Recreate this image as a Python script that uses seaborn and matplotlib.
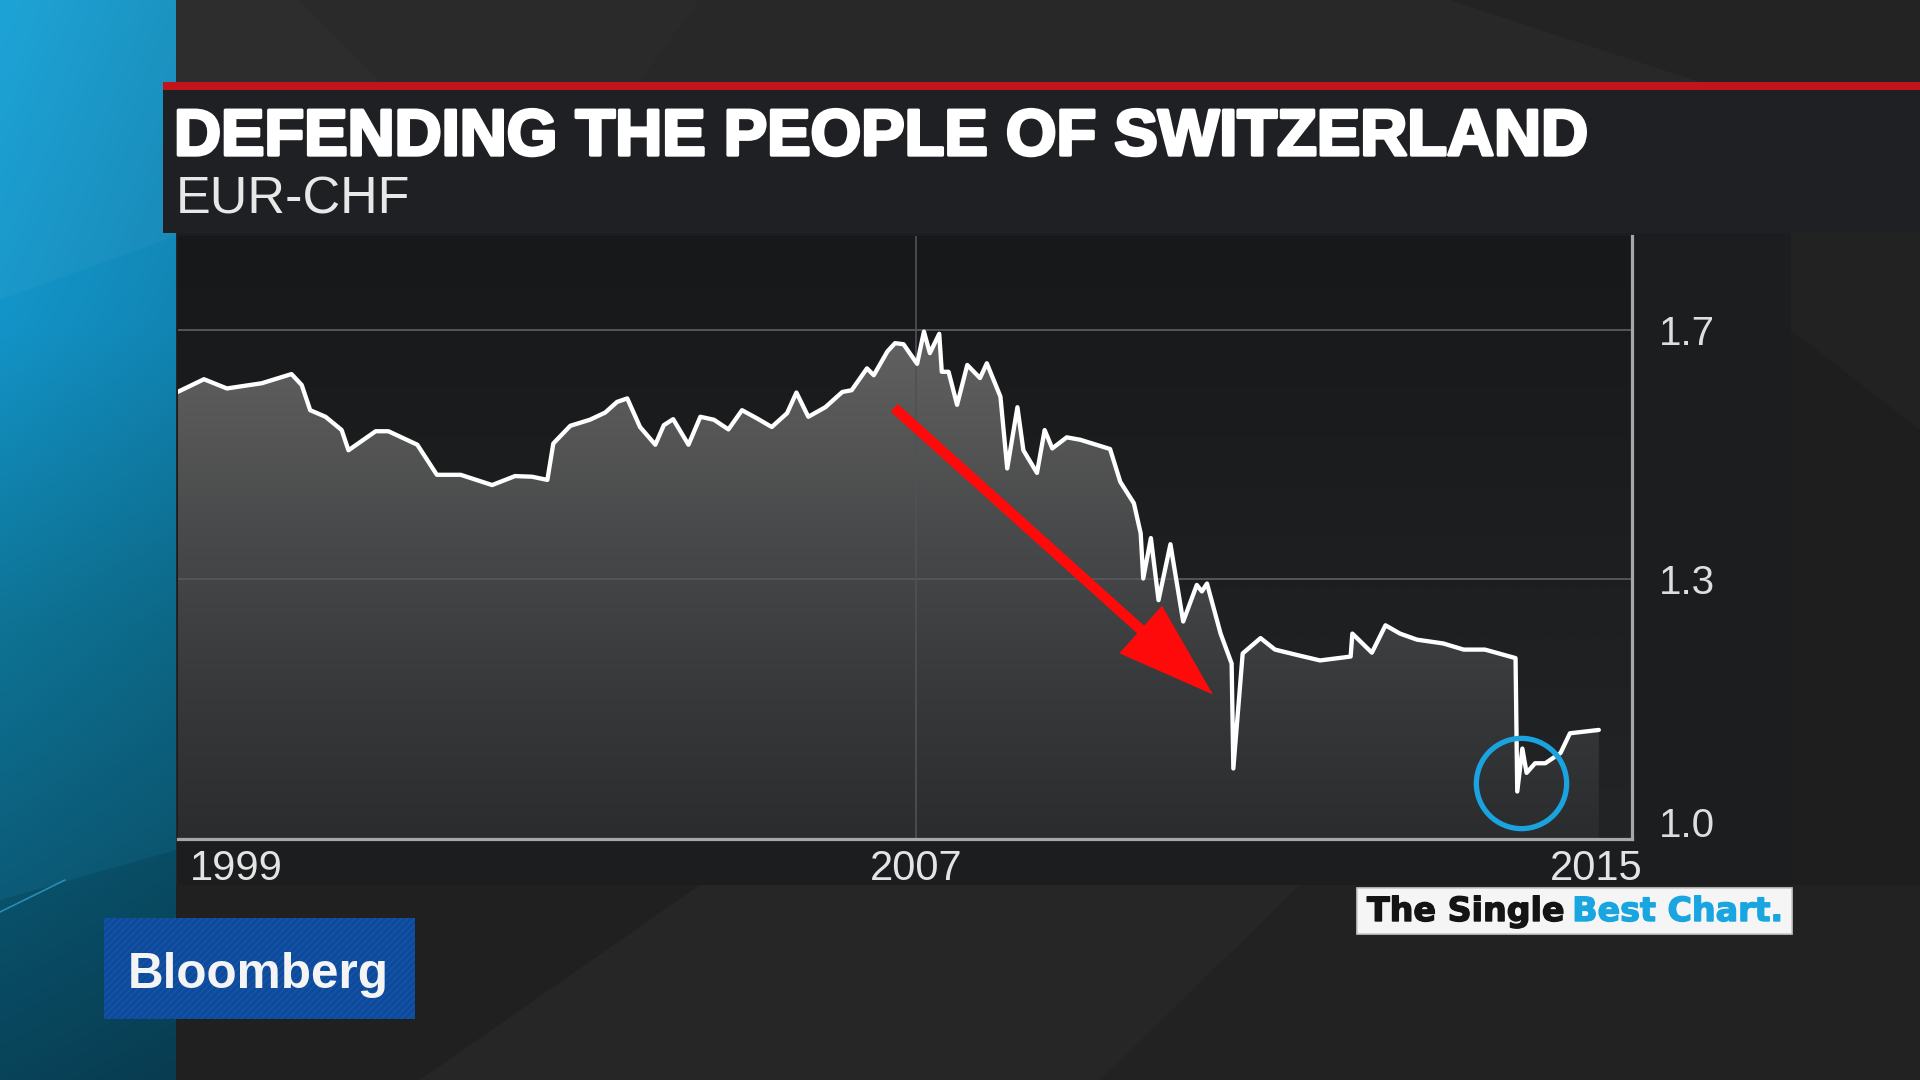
import numpy as np
import pandas as pd
import matplotlib
matplotlib.use("Agg")
import matplotlib.pyplot as plt
import seaborn as sns
from matplotlib.patches import Rectangle, Polygon
from matplotlib.colors import LinearSegmentedColormap, to_rgb
from matplotlib.image import AxesImage
from matplotlib.ticker import NullLocator
from matplotlib import patheffects as pe

# ---------------- data ----------------
years = [1998.31, 1998.62, 1998.89, 1999.07, 1999.30, 1999.65, 1999.77, 1999.87, 2000.05, 2000.24,
         2000.32, 2000.64, 2000.79, 2001.13, 2001.36, 2001.64, 2002.01, 2002.28, 2002.48, 2002.66,
         2002.73, 2002.93, 2003.16, 2003.34, 2003.48, 2003.60, 2003.75, 2003.93, 2004.03, 2004.14,
         2004.32, 2004.46, 2004.62, 2004.79, 2004.95, 2005.13, 2005.30, 2005.48, 2005.59, 2005.73,
         2005.93, 2006.13, 2006.24, 2006.42, 2006.50, 2006.66, 2006.75, 2006.85, 2007.01, 2007.09,
         2007.16, 2007.27, 2007.30, 2007.38, 2007.48, 2007.60, 2007.75, 2007.83, 2007.99, 2008.07,
         2008.19, 2008.26, 2008.42, 2008.51, 2008.60, 2008.77, 2008.93, 2009.28, 2009.40, 2009.56,
         2009.64, 2009.67, 2009.76, 2009.85, 2009.99, 2010.14, 2010.30, 2010.36, 2010.42, 2010.58,
         2010.71, 2010.73, 2010.84, 2011.05, 2011.22, 2011.48, 2011.75, 2012.11, 2012.13, 2012.36,
         2012.52, 2012.69, 2012.89, 2013.20, 2013.44, 2013.69, 2014.05, 2014.07, 2014.13, 2014.18,
         2014.28, 2014.40, 2014.58, 2014.69, 2015.03]
rates = [1.590, 1.612, 1.596, 1.600, 1.605, 1.621, 1.602, 1.559, 1.548, 1.526,
         1.493, 1.524, 1.524, 1.502, 1.454, 1.454, 1.438, 1.452, 1.451, 1.446,
         1.504, 1.533, 1.543, 1.555, 1.573, 1.579, 1.531, 1.502, 1.534, 1.544,
         1.502, 1.548, 1.543, 1.527, 1.559, 1.545, 1.531, 1.554, 1.589, 1.548,
         1.564, 1.590, 1.593, 1.631, 1.619, 1.661, 1.676, 1.674, 1.639, 1.697,
         1.658, 1.693, 1.625, 1.625, 1.568, 1.637, 1.614, 1.640, 1.582, 1.464,
         1.564, 1.493, 1.457, 1.526, 1.496, 1.514, 1.510, 1.495, 1.443, 1.410,
         1.365, 1.300, 1.358, 1.270, 1.349, 1.241, 1.291, 1.282, 1.293, 1.225,
         1.186, 1.059, 1.199, 1.219, 1.204, 1.197, 1.190, 1.195, 1.225, 1.200,
         1.236, 1.225, 1.217, 1.212, 1.204, 1.204, 1.193, 1.033, 1.082, 1.054,
         1.065, 1.065, 1.077, 1.100, 1.104]

title_text = "DEFENDING THE PEOPLE OF SWITZERLAND"
subtitle_text = "EUR-CHF"
x_ticks = [1999, 2007, 2015]
x_tick_labels = ["1999", "2007", "2015"]
y_ticks = [1.0, 1.3, 1.7]
y_tick_labels = ["1.0", "1.3", "1.7"]
y_grid = [1.3, 1.7]
x_grid = [2007]
x_range = (1998.31, 2015.42)
y_range = (0.9816, 1.8815)
arrow_start = (2006.74, 1.563)
arrow_end = (2010.49, 1.147)
circle_center = (2014.115, 1.042)
badge_parts = ["The Single", "Best Chart."]
logo_text = "Bloomberg"

# ---------------- style ----------------
sns.set_theme(style="dark")
plt.rcParams['font.family'] = ['Liberation Sans', 'DejaVu Sans']

W, H = 1920, 1080
fig = plt.figure(figsize=(W / 100, H / 100), dpi=100)
fig.patch.set_facecolor('#262626')
renderer = fig.canvas.get_renderer()

# background / decoration axes in pixel coordinates
bg = fig.add_axes([0, 0, 1, 1], zorder=-10)
bg.set_axis_off()

# teal strip on the left
ny, nx = 540, 88
yy = np.linspace(0, 1, ny)
xx = np.linspace(0, 1, nx)
stops = [0.0, 0.30, 0.58, 1.0]
cols = np.array([to_rgb(c) for c in ['#17a1d6', '#1394c8', '#0e7395', '#0a4b64']])
col_y = np.stack([np.interp(yy, stops, cols[:, i]) for i in range(3)], -1)
shade = 1.0 - 0.10 * xx
img = col_y[:, None, :] * shade[None, :, None]
bg.imshow(img, extent=[0, 176, H, 0], aspect='auto', zorder=0, interpolation='bilinear')
bg.add_patch(Polygon([(0, 0), (176, 0), (176, 236), (0, 300)], closed=True,
                     facecolor='white', alpha=0.03, lw=0, zorder=0.5))
bg.add_patch(Polygon([(0, 900), (176, 850), (176, 1080), (0, 1080)], closed=True,
                     facecolor='black', alpha=0.10, lw=0, zorder=0.5))
bg.plot([0, 65], [912, 880], color='#3fb8e0', lw=1.2, alpha=0.6, zorder=0.6)

# dark facets
facets = [
    ([(176, 0), (300, 0), (380, 82), (176, 82)], '#2d2d2d'),
    ([(300, 0), (700, 0), (640, 82), (380, 82)], '#2a2a2a'),
    ([(700, 0), (1450, 0), (1700, 82), (640, 82)], '#282828'),
    ([(1450, 0), (1920, 0), (1920, 82), (1700, 82)], '#232323'),
    ([(1791, 233), (1920, 233), (1920, 430), (1791, 330)], '#222222'),
    ([(1791, 330), (1920, 430), (1920, 885), (1791, 885)], '#1e1e1e'),
    ([(176, 885), (700, 885), (420, 1080), (176, 1080)], '#202020'),
    ([(700, 885), (1300, 885), (1100, 1080), (420, 1080)], '#262626'),
    ([(1300, 885), (1920, 885), (1920, 1080), (1100, 1080)], '#222222'),
]
for pts, c in facets:
    bg.add_patch(Polygon(pts, closed=True, facecolor=c, lw=0, zorder=0.2))

# header
bg.add_patch(Rectangle((163, 82), W - 163, 8, facecolor='#c1151b', lw=0, zorder=2))
bg.add_patch(Rectangle((163, 90), W - 163, 143, facecolor='#1f2023', lw=0, zorder=2))
# chart panel
bg.add_patch(Rectangle((177, 233), 1614, 652, facecolor='#1c1d1f', lw=0, zorder=1))

bg.set_xlim(0, W)
bg.set_ylim(H, 0)


def fit_width(t, target):
    for _ in range(3):
        w = t.get_window_extent(renderer).width
        t.set_fontsize(t.get_fontsize() * target / w)


t_title = bg.text(174, 155, title_text, color='white', fontsize=48, fontweight='bold',
                  va='baseline', ha='left', zorder=5)
fit_width(t_title, 1414)
t_title.set_path_effects([pe.withStroke(linewidth=2.4, foreground='white')])

t_sub = bg.text(176, 213, subtitle_text, color='#e8e8e8', fontsize=36,
                va='baseline', ha='left', zorder=5)
fit_width(t_sub, 234)

# Bloomberg logo
bg.add_patch(Rectangle((104, 918), 311, 101, facecolor='#0e4a9b', lw=0, zorder=3))
bg.add_patch(Rectangle((104, 918), 311, 101, facecolor='none', edgecolor='#1655a6',
                       hatch='/////', lw=0, zorder=3.1))
t_logo = bg.text(128, 988, logo_text, color='#f4f4f4', fontsize=40, fontweight='bold',
                 va='baseline', ha='left', zorder=4)
fit_width(t_logo, 262)

# badge
bg.add_patch(Rectangle((1357, 888), 435, 46, facecolor='#f5f5f5', edgecolor='#c9c9c9',
                       lw=1.2, zorder=3))
b1 = bg.text(1367, 921, badge_parts[0], color='#141414', fontsize=24, fontweight='bold',
             family=['DejaVu Sans'], va='baseline', ha='left', zorder=4)
b2 = bg.text(1500, 921, badge_parts[1], color='#19a6e0', fontsize=24, fontweight='bold',
             family=['DejaVu Sans'], va='baseline', ha='left', zorder=4)
for t in (b1, b2):
    t.set_path_effects([pe.withStroke(linewidth=1.0, foreground=t.get_color())])
for _ in range(4):
    fs = b1.get_fontsize()
    w1 = b1.get_window_extent(renderer).width
    gap = 0.25 * fs * 100 / 72
    b2.set_x(1367 + w1 + gap)
    w2 = b2.get_window_extent(renderer).width
    s = 416 / (w1 + gap + w2)
    b1.set_fontsize(fs * s)
    b2.set_fontsize(fs * s)
fs = b1.get_fontsize()
b2.set_x(1367 + b1.get_window_extent(renderer).width + 0.25 * fs * 100 / 72)

# ---------------- main chart ----------------
left, right, top, bottom = 177.6, 1632.0, 236.0, 838.8
ax = fig.add_axes([left / W, 1 - bottom / H, (right - left) / W, (bottom - top) / H], zorder=1)
ax.set_facecolor('#1e1f21')
ax.set_yscale('log')
ax.set_xlim(*x_range)
ax.set_ylim(*y_range)
ax.set_autoscale_on(False)

df = pd.DataFrame({'year': years, 'rate': rates})

# plot-area background gradient
bg_cmap = LinearSegmentedColormap.from_list('bgc', ['#232426', '#17181a'])
im_bg = AxesImage(ax, cmap=bg_cmap, interpolation='bilinear', origin='lower',
                  extent=(0, 1, 0, 1), transform=ax.transAxes, zorder=0.1)
im_bg.set_data(np.linspace(0, 1, 256)[:, None])
ax.add_artist(im_bg)

# gradient area under the curve
fill = ax.fill_between(df['year'], df['rate'], y_range[0], facecolor='none', edgecolor='none')
fill_cmap = LinearSegmentedColormap.from_list(
    'fill', [(0, '#2b2c2e'), (0.25, '#38393a'), (0.5, '#48494a'), (0.75, '#5b5b5b'), (1, '#6c6c6c')])
im_fill = AxesImage(ax, cmap=fill_cmap, interpolation='bilinear', origin='lower',
                    extent=(0, 1, 0, 1), transform=ax.transAxes, zorder=1)
im_fill.set_data(np.linspace(0, 1, 256)[:, None])
ax.add_artist(im_fill)
im_fill.set_clip_path(fill.get_paths()[0], transform=ax.transData)

# grid lines
for g in y_grid:
    ax.axhline(g, color='#55565a', lw=1.4, zorder=2)
for g in x_grid:
    ax.axvline(g, color='#505155', lw=1.2, zorder=2)

sns.lineplot(data=df, x='year', y='rate', ax=ax, color='white', linewidth=3.1,
             estimator=None, sort=False, zorder=3, legend=False)

ax.set_xlim(*x_range)
ax.set_ylim(*y_range)
ax.set_xlabel('')
ax.set_ylabel('')
ax.grid(False)

for s in ['left', 'top']:
    ax.spines[s].set_visible(False)
for s in ['right', 'bottom']:
    ax.spines[s].set_visible(True)
    ax.spines[s].set_color('#a7a7a7')
    ax.spines[s].set_linewidth(2.3)
    ax.spines[s].set_zorder(4)

ax.yaxis.tick_right()
ax.set_yticks(y_ticks)
ax.set_yticklabels(y_tick_labels)
ax.yaxis.set_minor_locator(NullLocator())
ax.tick_params(axis='y', which='both', length=0, pad=19, labelsize=29, labelcolor='#dedede')
ax.set_xticks(x_ticks)
ax.set_xticklabels(x_tick_labels)
ax.tick_params(axis='x', length=0, pad=7, labelsize=30, labelcolor='#e4e4e4')

# red arrow and blue circle annotations
ax.annotate('', xy=arrow_end, xytext=arrow_start, xycoords='data', textcoords='data',
            arrowprops=dict(arrowstyle='simple,head_length=70,head_width=46,tail_width=7.5',
                            mutation_scale=1, color='#ff0a0a', lw=0, shrinkA=0, shrinkB=0),
            zorder=5)
ax.plot([circle_center[0]], [circle_center[1]], marker='o', ms=65, mfc='none',
        mec='#1aa3de', mew=3.8, zorder=6, clip_on=False, linestyle='none')

fig.savefig('out.png', dpi=100, facecolor=fig.get_facecolor())
